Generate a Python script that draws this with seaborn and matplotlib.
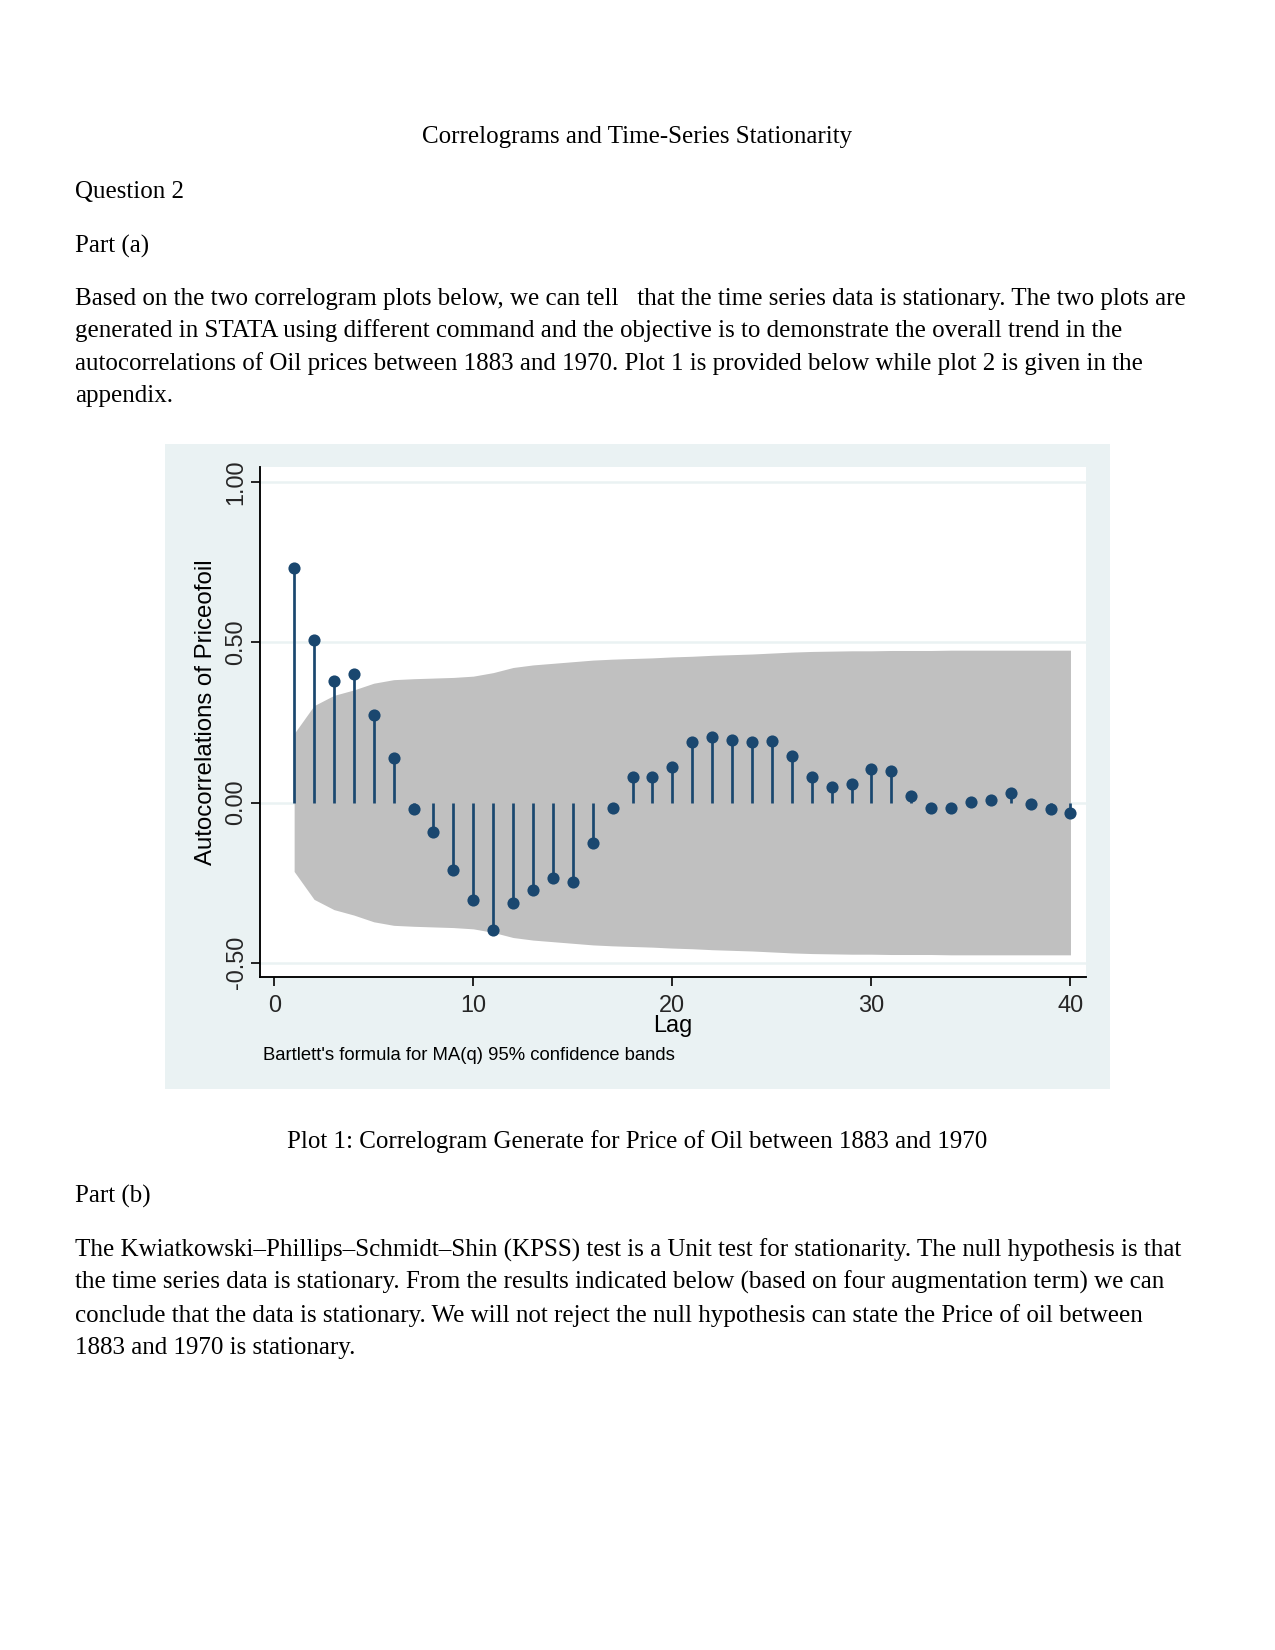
import matplotlib
matplotlib.use("Agg")
import matplotlib.pyplot as plt
from matplotlib.patches import Rectangle
import seaborn as sns
import numpy as np

sns.set_theme(style="white")
plt.rcParams["font.family"] = ["Liberation Sans", "DejaVu Sans"]

# autocorrelations of Priceofoil, lags 1..40
lags = list(range(1, 41))
acf = [0.730, 0.506, 0.380, 0.402, 0.273, 0.138, -0.019, -0.091, -0.210, -0.303,
       -0.398, -0.314, -0.273, -0.235, -0.248, -0.127, -0.018, 0.078, 0.079, 0.112,
       0.189, 0.205, 0.194, 0.189, 0.192, 0.146, 0.078, 0.047, 0.057, 0.106,
       0.099, 0.021, -0.017, -0.018, 0.001, 0.009, 0.030, -0.006, -0.019, -0.033]
# upper edge of Bartlett 95% band (lower edge is the mirror)
band = [0.215, 0.302, 0.334, 0.351, 0.372, 0.383, 0.386, 0.388, 0.390, 0.394,
        0.405, 0.421, 0.429, 0.434, 0.439, 0.444, 0.447, 0.449, 0.451, 0.454,
        0.456, 0.459, 0.461, 0.463, 0.466, 0.469, 0.471, 0.472, 0.473, 0.473,
        0.474, 0.474, 0.474, 0.475, 0.475, 0.475, 0.475, 0.475, 0.475, 0.475]
yticks = [-0.5, 0.0, 0.5, 1.0]
ytick_labels = ["-0.50", "0.00", "0.50", "1.00"]
xticks = [0, 10, 20, 30, 40]

W, H = 1275, 1650
fig = plt.figure(figsize=(W / 150, H / 150), dpi=150)
fig.patch.set_facecolor("white")

def fx(px):
    return px / W

def fy(py):
    return 1 - py / H

serif = ["Liberation Serif", "DejaVu Serif"]

def line(txt, x, y, ha="left"):
    fig.text(fx(x), fy(y), txt, ha=ha, va="baseline", fontsize=12,
             family=serif, color="black")

# page text above the chart
line("Correlograms and Time-Series Stationarity", W / 2, 143, ha="center")
line("Question 2", 75, 198)
line("Part (a)", 75, 253)
para_a = [
    "Based on the two correlogram plots below, we can tell   that the time series data is stationary. The two plots are",
    "generated in STATA using different command and the objective is to demonstrate the overall trend in the",
    "autocorrelations of Oil prices between 1883 and 1970. Plot 1 is provided below while plot 2 is given in the",
    "appendix.",
]
for i, t in enumerate(para_a):
    line(t, 75, [305, 337, 370, 402][i])

# chart background (Stata s2color look)
fig.patches.append(Rectangle((fx(165), fy(1089)), fx(1110) - fx(165), fy(444) - fy(1089),
                             transform=fig.transFigure, facecolor="#EAF2F3",
                             edgecolor="none", zorder=-5))

ax = fig.add_axes([fx(259.7), fy(976.8), fx(1086) - fx(259.7), fy(466.8) - fy(976.8)])
ax.set_zorder(2)
ax.set_facecolor("white")

lo = [-b for b in band]
ax.fill_between(lags, lo, band, color="#C0C0C0", linewidth=0, zorder=1)
for v in yticks:
    ax.axhline(v, color="#EAF2F3", lw=1.2, zorder=0.5)
ax.vlines(lags, 0, acf, color="#1A476F", lw=1.3, zorder=2)
sns.scatterplot(x=lags, y=acf, ax=ax, color="#1A476F", s=34, edgecolor="#1A476F",
                linewidth=0, zorder=3, legend=False)

ax.set_xlim(-0.73, 40.78)
ax.set_ylim(-0.5435, 1.0468)
ax.set_yticks(yticks)
ax.set_yticklabels(ytick_labels, rotation=90, va="center", fontsize=11.3)
ax.set_xticks(xticks)
ax.set_xticklabels([str(t) for t in xticks], fontsize=11.3)
ax.tick_params(axis="both", which="major", direction="out", length=4.3, width=0.8,
               color="black", bottom=True, left=True)
ax.tick_params(axis="x", pad=4.5)
ax.tick_params(axis="y", pad=1.5)
ax.grid(False)
for s in ["top", "right"]:
    ax.spines[s].set_visible(False)
for s in ["left", "bottom"]:
    ax.spines[s].set_color("black")
    ax.spines[s].set_linewidth(0.9)
ax.set_xlabel("Lag", fontsize=11.3, labelpad=-1, color="black")

fig.text(fx(206), fy(712), "Autocorrelations of Priceofoil", rotation=90,
         ha="center", va="center", fontsize=11.5, color="black")
fig.text(fx(263), fy(1060), "Bartlett's formula for MA(q) 95% confidence bands",
         fontsize=8.9, va="baseline", ha="left", color="black")

# caption and text below the chart
line("Plot 1: Correlogram Generate for Price of Oil between 1883 and 1970", W / 2, 1148, ha="center")
line("Part (b)", 75, 1203)
para_b = [
    "The Kwiatkowski\u2013Phillips\u2013Schmidt\u2013Shin (KPSS) test is a Unit test for stationarity. The null hypothesis is that",
    "the time series data is stationary. From the results indicated below (based on four augmentation term) we can",
    "conclude that the data is stationary. We will not reject the null hypothesis can state the Price of oil between",
    "1883 and 1970 is stationary.",
]
for i, t in enumerate(para_b):
    line(t, 75, [1257, 1289, 1322, 1354][i])

fig.savefig("out.png", dpi=150)
